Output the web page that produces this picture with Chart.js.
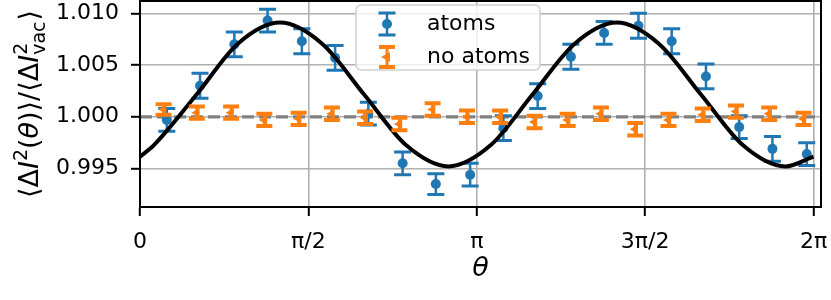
<!DOCTYPE html>
<html>
<head>
<meta charset="utf-8">
<script src="https://cdn.jsdelivr.net/npm/chart.js@4.4.0/dist/chart.umd.min.js"></script>
<style>
  html, body { margin: 0; padding: 0; background: #fff; }
</style>
</head>
<body>
<canvas id="chart" width="831" height="300"></canvas>
<script>
// --- data ---
const thetaAtoms = [0.25, 0.56, 0.88, 1.19, 1.51, 1.82, 2.13, 2.45, 2.76, 3.08,
                    3.39, 3.71, 4.02, 4.33, 4.65, 4.96, 5.28, 5.59, 5.90, 6.22];
const atoms = [0.9997, 1.0030, 1.0070, 1.0093, 1.0073, 1.0057, 1.0003, 0.9955, 0.9935, 0.9944,
               0.9989, 1.0020, 1.0058, 1.0081, 1.0088, 1.0073, 1.0039, 0.9990, 0.9969, 0.9964];
const atomsErr = [0.0011, 0.0012, 0.0012, 0.0011, 0.0012, 0.0012, 0.0011, 0.0011, 0.0010, 0.0011,
                  0.0012, 0.0012, 0.0012, 0.0011, 0.0012, 0.0012, 0.0012, 0.0011, 0.0012, 0.0011];

const thetaNoAtoms = [0.22, 0.53, 0.85, 1.16, 1.48, 1.79, 2.10, 2.42, 2.73, 3.05,
                      3.36, 3.68, 3.99, 4.30, 4.62, 4.93, 5.25, 5.56, 5.87, 6.19];
const noAtoms = [1.0007, 1.0004, 1.0004, 0.9997, 0.9998, 1.0003, 0.9999, 0.9993, 1.0007, 1.0000,
                 1.0000, 0.9995, 0.9997, 1.0003, 0.9988, 0.9997, 1.0002, 1.0005, 1.0003, 0.9998];
const noAtomsErr = [0.0005, 0.0006, 0.0006, 0.0006, 0.0006, 0.0006, 0.0006, 0.0006, 0.0006, 0.0006,
                    0.0006, 0.0006, 0.0006, 0.0006, 0.0006, 0.0006, 0.0006, 0.0006, 0.0006, 0.0006];

// fitted curve
const fitTheta = [0, 0.128, 0.528, 0.913, 1.306, 1.699, 2.091, 2.484, 2.877,
                  3.270, 3.662, 4.055, 4.448, 4.840, 5.233, 5.626, 6.019, 6.283];
const fitValue = [0.99615, 0.99724, 1.00215, 1.00706, 1.0091, 1.00706, 1.00215, 0.99724, 0.9952,
                  0.99724, 1.00215, 1.00706, 1.0091, 1.00706, 1.00215, 0.99724, 0.9952, 0.99615];

const refLevel = 1.0;
const xTicks = [0, Math.PI / 2, Math.PI, 3 * Math.PI / 2, 2 * Math.PI];
const xTickLabels = ['0', 'π/2', 'π', '3π/2', '2π'];
const yTicks = [0.995, 1.000, 1.005, 1.010];
const xMin = 0, xMax = 6.353;
const yMin = 0.99128, yMax = 1.01119;

const BLUE = '#1f77b4';
const ORANGE = '#ff7f0e';
const FONT = '"DejaVu Sans"';

const toPoints = (xs, ys) => xs.map((x, i) => ({ x: x, y: ys[i] }));

// error bars drawn just before each dataset's markers
const errorBars = {
  id: 'errorBars',
  beforeDatasetDraw(chart, args) {
    const ds = chart.data.datasets[args.index];
    if (!ds.errors) return;
    const { ctx, scales: { x, y } } = chart;
    ctx.save();
    ctx.strokeStyle = ds.errColor;
    ds.data.forEach((p, i) => {
      const px = x.getPixelForValue(p.x);
      const top = y.getPixelForValue(p.y + ds.errors[i]);
      const bot = y.getPixelForValue(p.y - ds.errors[i]);
      ctx.lineWidth = ds.errWidth;
      ctx.beginPath();
      ctx.moveTo(px, top); ctx.lineTo(px, bot);
      ctx.stroke();
      ctx.lineWidth = ds.capThick;
      ctx.beginPath();
      ctx.moveTo(px - ds.capWidth / 2, top); ctx.lineTo(px + ds.capWidth / 2, top);
      ctx.moveTo(px - ds.capWidth / 2, bot); ctx.lineTo(px + ds.capWidth / 2, bot);
      ctx.stroke();
    });
    ctx.restore();
  }
};

function drawErrGlyph(ctx, x, y, half, capW, color, errW, capT) {
  ctx.strokeStyle = color;
  ctx.lineWidth = errW;
  ctx.beginPath(); ctx.moveTo(x, y - half); ctx.lineTo(x, y + half); ctx.stroke();
  ctx.lineWidth = capT;
  ctx.beginPath();
  ctx.moveTo(x - capW / 2, y - half); ctx.lineTo(x + capW / 2, y - half);
  ctx.moveTo(x - capW / 2, y + half); ctx.lineTo(x + capW / 2, y + half);
  ctx.stroke();
}

// frame, axis titles and legend
const decorations = {
  id: 'decorations',
  afterDraw(chart) {
    const { ctx, chartArea: ca } = chart;
    ctx.save();

    // full box
    ctx.strokeStyle = '#000';
    ctx.lineWidth = 2;
    ctx.strokeRect(ca.left, ca.top, ca.right - ca.left, ca.bottom - ca.top);

    // legend
    const lx = 356, ly = 5, lw = 184, lh = 65;
    ctx.fillStyle = 'rgba(255,255,255,0.8)';
    ctx.strokeStyle = '#d0d0d0';
    ctx.lineWidth = 1.5;
    ctx.beginPath();
    ctx.roundRect(lx, ly, lw, lh, 5);
    ctx.fill();
    ctx.stroke();

    drawErrGlyph(ctx, 387, 24, 11, 17, BLUE, 2.5, 3);
    ctx.fillStyle = BLUE;
    ctx.beginPath(); ctx.arc(387, 24, 5, 0, Math.PI * 2); ctx.fill();

    drawErrGlyph(ctx, 387, 57, 10, 16, ORANGE, 3, 4);
    ctx.fillStyle = ORANGE;
    ctx.beginPath();
    ctx.moveTo(381, 57); ctx.lineTo(390, 52); ctx.lineTo(390, 62); ctx.closePath();
    ctx.fill();

    ctx.fillStyle = '#000';
    ctx.font = '22px ' + FONT;
    ctx.textAlign = 'left';
    ctx.textBaseline = 'middle';
    ctx.fillText('atoms', 427, 24);
    ctx.fillText('no atoms', 427, 57);

    // x title
    ctx.font = 'italic 27px ' + FONT;
    ctx.textAlign = 'center';
    ctx.fillText('θ', (ca.left + ca.right) / 2, 269);

    // y title with super/subscripts
    const big = 27, small = 19;
    const f = (s, it) => (it ? 'italic ' : '') + s + 'px ' + FONT;
    const parts = [
      { t: '⟨Δ', f: f(big) }, { t: 'I', f: f(big, true) }, { t: '2', f: f(small), dy: -11 },
      { t: '(', f: f(big) }, { t: 'θ', f: f(big, true) }, { t: ')⟩/⟨Δ', f: f(big) },
      { t: 'I', f: f(big, true) },
      { stack: [{ t: '2', f: f(small), dy: -11 }, { t: 'vac', f: f(small), dy: 7 }] },
      { t: '⟩', f: f(big) }
    ];
    const widthOf = (p) => { ctx.font = p.f; return ctx.measureText(p.t).width; };
    let total = 0;
    parts.forEach(p => {
      p.w = p.stack ? Math.max(...p.stack.map(widthOf)) + 1 : widthOf(p);
      total += p.w;
    });
    ctx.translate(38, (ca.top + ca.bottom) / 2);
    ctx.rotate(-Math.PI / 2);
    ctx.textAlign = 'left';
    ctx.textBaseline = 'alphabetic';
    let cx = -total / 2;
    parts.forEach(p => {
      (p.stack || [p]).forEach(q => {
        ctx.font = q.f;
        ctx.fillText(q.t, cx, q.dy || 0);
      });
      cx += p.w;
    });
    ctx.restore();
  }
};

const chart = new Chart(document.getElementById('chart'), {
  type: 'scatter',
  data: {
    datasets: [
      {
        label: 'no atoms',
        data: toPoints(thetaNoAtoms, noAtoms),
        backgroundColor: ORANGE,
        borderColor: ORANGE,
        borderWidth: 0,
        pointStyle: 'triangle',
        rotation: -90,
        pointRadius: 5.5,
        errors: noAtomsErr, errColor: ORANGE, errWidth: 3, capThick: 4, capWidth: 16,
        order: 1
      },
      {
        label: 'fit',
        type: 'line',
        data: toPoints(fitTheta, fitValue),
        borderColor: '#000',
        borderWidth: 4,
        pointRadius: 0,
        cubicInterpolationMode: 'monotone',
        fill: false,
        order: 2
      },
      {
        label: 'atoms',
        data: toPoints(thetaAtoms, atoms),
        backgroundColor: BLUE,
        borderColor: BLUE,
        borderWidth: 0,
        pointRadius: 5,
        errors: atomsErr, errColor: BLUE, errWidth: 2.5, capThick: 3, capWidth: 17,
        order: 3
      },
      {
        label: 'reference',
        type: 'line',
        data: [{ x: xMin, y: refLevel }, { x: xMax, y: refLevel }],
        borderColor: '#808080',
        borderDash: [12, 5],
        borderWidth: 3.2,
        pointRadius: 0,
        fill: false,
        order: 4
      }
    ]
  },
  options: {
    responsive: false,
    animation: false,
    devicePixelRatio: 1,
    layout: { autoPadding: false, padding: { top: 1, right: 10, left: 0, bottom: 0 } },
    plugins: { legend: { display: false }, tooltip: { enabled: false } },
    scales: {
      x: {
        type: 'linear',
        min: xMin, max: xMax,
        afterFit: (s) => { s.height = 93; s.paddingLeft = 0; s.paddingRight = 0; },
        afterBuildTicks: (s) => { s.ticks = xTicks.map(v => ({ value: v })); },
        ticks: {
          callback: (v, i) => xTickLabels[i],
          font: { family: 'DejaVu Sans', size: 22 },
          color: '#000',
          padding: 13,
          maxRotation: 0
        },
        grid: { color: '#b0b0b0', lineWidth: 1.6, tickColor: '#000', tickWidth: 2, tickLength: 9 },
        border: { color: '#000', width: 2 }
      },
      y: {
        min: yMin, max: yMax,
        afterFit: (s) => { s.width = 140; s.paddingTop = 0; s.paddingBottom = 0; },
        afterBuildTicks: (s) => { s.ticks = yTicks.map(v => ({ value: v })); },
        ticks: {
          callback: (v) => v.toFixed(3),
          font: { family: 'DejaVu Sans', size: 22 },
          color: '#000',
          padding: 12
        },
        grid: { color: '#b0b0b0', lineWidth: 1.6, tickColor: '#000', tickWidth: 2, tickLength: 9 },
        border: { color: '#000', width: 2 }
      }
    }
  },
  plugins: [errorBars, decorations]
});
</script>
</body>
</html>
